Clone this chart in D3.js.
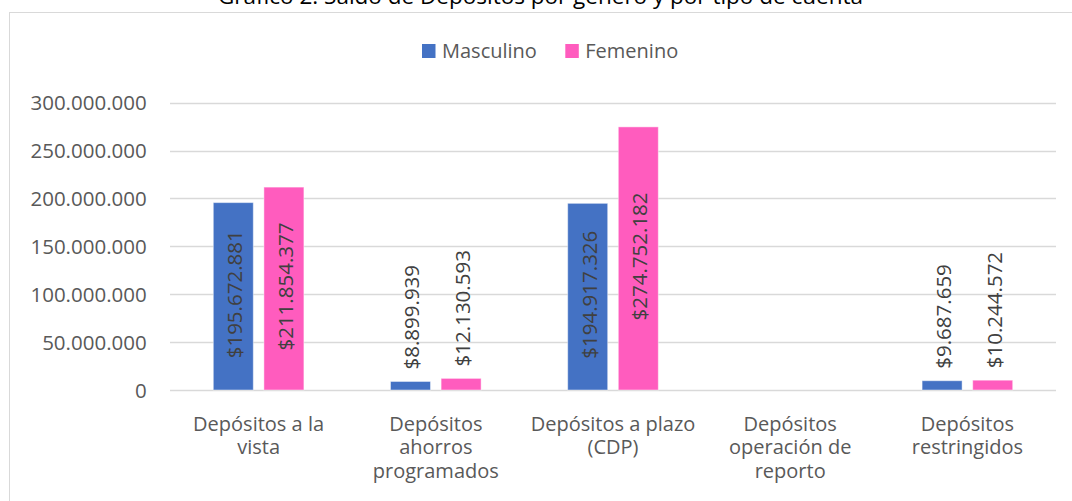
<!DOCTYPE html>
<html><head><meta charset="utf-8">
<script src="https://cdn.jsdelivr.net/npm/d3@7"></script>
<style>html,body{margin:0;padding:0;background:#fff;overflow:hidden}</style>
</head><body><svg id="c" width="1072" height="501"></svg>
<script>
const title = "Gráfico 2. Saldo de Depósitos por género y por tipo de cuenta";
const categories = ["Depósitos a la vista","Depósitos ahorros programados","Depósitos a plazo (CDP)","Depósitos operación de reporto","Depósitos restringidos"];
const categoryLines = [["Depósitos a la","vista"],["Depósitos","ahorros","programados"],["Depósitos a plazo","(CDP)"],["Depósitos","operación de","reporto"],["Depósitos","restringidos"]];
const seriesNames = ["Masculino","Femenino"];
const masculino = [195672881, 8899939, 194917326, 0, 9687659];
const femenino = [211854377, 12130593, 274752182, 0, 10244572];
const valueLabelsM = ["$195.672.881","$8.899.939","$194.917.326","","$9.687.659"];
const valueLabelsF = ["$211.854.377","$12.130.593","$274.752.182","","$10.244.572"];
const yTicks = [0,50000000,100000000,150000000,200000000,250000000,300000000];
const yTickLabels = ["0","50.000.000","100.000.000","150.000.000","200.000.000","250.000.000","300.000.000"];
const colors = ["#4472C4","#FF5CBE"];

const svg = d3.select("#c");
const FONT = "'Open Sans', sans-serif";
const x = d3.scaleBand().domain(categories).range([170,1056]).padding(0);
const y = d3.scaleLinear().domain([0,300000000]).range([390,102.7]);

// chart border
svg.append("rect").attr("x",9.5).attr("y",12.5).attr("width",1100).attr("height",600)
  .attr("fill","#fff").attr("stroke","#d9d9d9").attr("stroke-width",1);

// title
svg.append("text").attr("x",540.5).attr("y",3.5).attr("text-anchor","middle")
  .attr("font-family",FONT).attr("font-size",22.5).attr("fill","#000").text(title);

// gridlines
svg.append("g").selectAll("line").data(yTicks).join("line")
  .attr("x1",170).attr("x2",1056).attr("y1",d=>Math.round(y(d))+0.5).attr("y2",d=>Math.round(y(d))+0.5)
  .attr("stroke","#d9d9d9").attr("stroke-width",1.3);

// y axis labels
const yAxis = d3.axisLeft(y).tickValues(yTicks).tickFormat((d,i)=>yTickLabels[i]).tickSize(0).tickPadding(0);
const ya = svg.append("g").attr("transform","translate(146.7,0)").call(yAxis);
ya.select(".domain").remove();
ya.selectAll("text").attr("font-family",FONT).attr("font-size",20.5).attr("fill","#595959").attr("dy","0.35em");

// bars
const bw = x.bandwidth();
const barW = bw*0.2257, off = bw*0.1428;
const series = [masculino, femenino];
const labels = [valueLabelsM, valueLabelsF];
series.forEach((vals,s)=>{
  const g = svg.append("g");
  vals.forEach((v,i)=>{
    if(!v) return;
    const cx = x(categories[i]) + bw/2 + (s===0?-off:off);
    g.append("rect").attr("x",cx-barW/2).attr("y",y(v)).attr("width",barW).attr("height",y(0)-y(v))
      .attr("fill",colors[s]).attr("stroke","#fff").attr("stroke-opacity",0.45).attr("stroke-width",1);
    const t = g.append("text").attr("font-family",FONT).attr("font-size",20.5).attr("fill","#404040")
      .attr("dominant-baseline","central").text(labels[s][i]);
    const len = t.node().getComputedTextLength();
    const h = y(0)-y(v);
    let ly, anchor;
    if(h > len + 10){ ly = (y(v)+y(0))/2 - 2; anchor = "middle"; }
    else { ly = y(v) - 12; anchor = "start"; }
    t.attr("text-anchor",anchor).attr("transform",`translate(${cx+1},${ly}) rotate(-90)`);
  });
});

// category labels
const xg = svg.append("g");
categories.forEach((c,i)=>{
  const t = xg.append("text").attr("x",x(c)+bw/2).attr("y",431).attr("text-anchor","middle")
    .attr("font-family",FONT).attr("font-size",20).attr("fill","#595959");
  categoryLines[i].forEach((ln,j)=>{
    t.append("tspan").attr("x",x(c)+bw/2).attr("dy",j===0?0:23.3).text(ln);
  });
});

// legend
const lg = svg.append("g");
const legX = [422, 565.3];
seriesNames.forEach((n,i)=>{
  lg.append("rect").attr("x",legX[i]).attr("y",44).attr("width",13.5).attr("height",14).attr("fill",colors[i]);
  lg.append("text").attr("x",legX[i]+20).attr("y",58).attr("font-family",FONT).attr("font-size",20)
    .attr("fill","#595959").text(n);
});
</script></body></html>
